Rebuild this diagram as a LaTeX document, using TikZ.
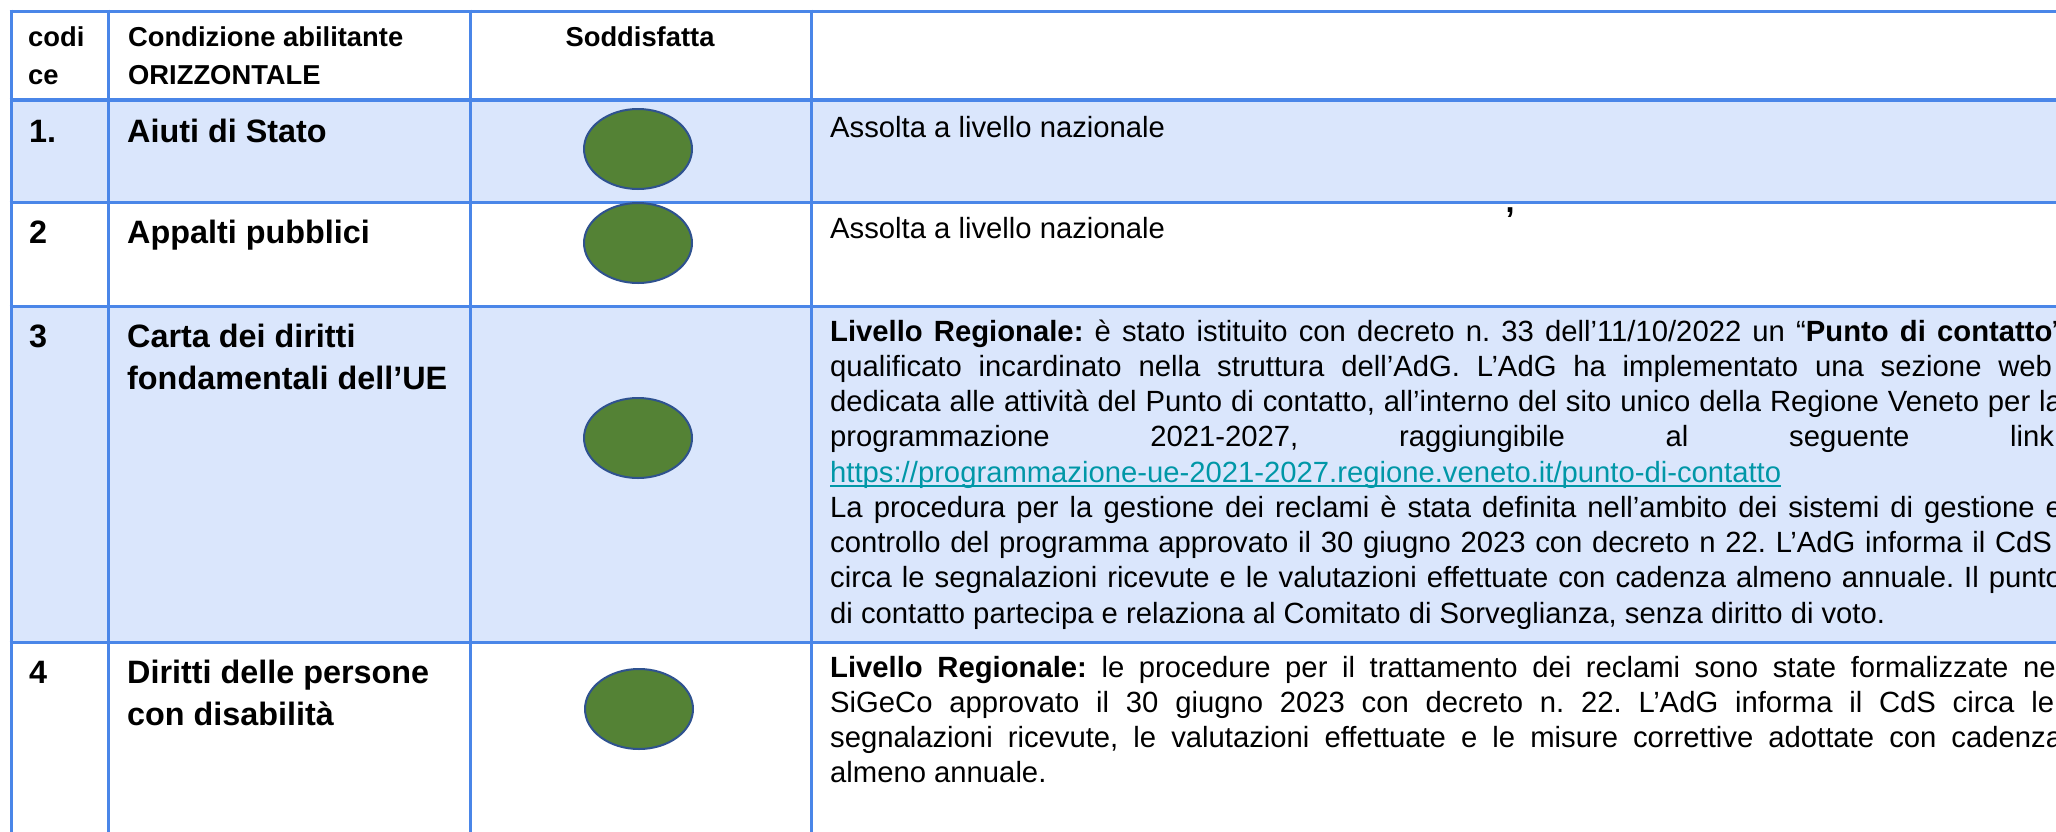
\documentclass[tikz,border=0pt]{standalone}
\usepackage{fontspec}
\setmainfont{Liberation Sans}
\usetikzlibrary{shapes.geometric}
\definecolor{tblline}{RGB}{74,134,232}
\definecolor{rowfill}{RGB}{218,230,252}
\definecolor{okfill}{RGB}{84,130,53}
\definecolor{okdraw}{RGB}{47,82,143}
\definecolor{linkc}{RGB}{0,151,167}
\newlength\mylen
\newcommand\fitfont[4]{\settowidth\mylen{\normalfont#2\fontsize{10pt}{12pt}\selectfont #4}\pgfmathsetmacro#1{10*#3/\mylen}}
\fitfont\bodysz{\mdseries}{1055}{di contatto partecipa e relaziona al Comitato di Sorveglianza, senza diritto di voto.}
\fitfont\titlesz{\bfseries}{320}{fondamentali dell’UE}
\fitfont\headsz{\bfseries}{275}{Condizione abilitante}
\newcommand\bodyf{\normalfont\frenchspacing\fontsize{\bodysz pt}{\bodysz pt}\selectfont}
\newcommand\titlef{\normalfont\bfseries\fontsize{\titlesz pt}{\titlesz pt}\selectfont}
\newcommand\headf{\normalfont\bfseries\fontsize{\headsz pt}{\headsz pt}\selectfont}
\newcommand\jl[1]{\makebox[1232pt][s]{#1}}
\tikzset{
  tl/.style={draw=tblline, line width=3pt},
  tlthick/.style={draw=tblline, line width=4.5pt},
  head/.style={anchor=base west, inner sep=0pt, font=\headf},
  ttl/.style={anchor=base west, inner sep=0pt, font=\titlef},
  body/.style={anchor=base west, inner sep=0pt, font=\bodyf},
  okmark/.style={ellipse, draw=okdraw, line width=2pt, fill=okfill, minimum width=108pt, minimum height=80pt, inner sep=0pt}
}
\begin{document}
\frenchspacing
\begin{tikzpicture}[x=1pt,y=-1pt]
\useasboundingbox (0,0) rectangle (2056,831);
\clip (0,0) rectangle (2056,831);
\fill[white] (0,0) rectangle (2056,831);
% row shading
\fill[rowfill] (11,100) rectangle (2070,202);
\fill[rowfill] (11,306) rectangle (2070,642);
% grid
\draw[tl] (9.5,11) -- (2070,11);
\draw[tlthick] (9.5,100) -- (2070,100);
\draw[tl] (9.5,202) -- (2070,202);
\draw[tl] (9.5,306) -- (2070,306);
\draw[tl] (9.5,642) -- (2070,642);
\draw[tl] (11,9.5) -- (11,840);
\draw[tl] (108,9.5) -- (108,840);
\draw[tl] (470,9.5) -- (470,840);
\draw[tl] (811,9.5) -- (811,840);
% header
\node[head] (hcod1) at (28,46) {codi};
\node[head] (hcod2) at (28,84) {ce};
\node[head] (hcon1) at (128,46) {Condizione abilitante};
\node[head] (hcon2) at (128,84) {ORIZZONTALE};
\node[head, anchor=base] (hsod) at (640,46) {Soddisfatta};
% row numbers and titles
\node[ttl] (n1) at (29,142) {1.};
\node[ttl] (t1) at (127,142) {Aiuti di Stato};
\node[ttl] (n2) at (29,243) {2};
\node[ttl] (t2) at (127,243) {Appalti pubblici};
\node[ttl] (n3) at (29,347) {3};
\node[ttl] (t3a) at (127,347) {Carta dei diritti};
\node[ttl] (t3b) at (127,389) {fondamentali dell’UE};
\node[ttl] (n4) at (29,683) {4};
\node[ttl] (t4a) at (127,683) {Diritti delle persone};
\node[ttl] (t4b) at (127,725) {con disabilità};
% satisfied marks
\node[okmark] (c1) at (638,149) {};
\node[okmark] (c2) at (638,243) {};
\node[okmark] (c3) at (638,438) {};
\node[okmark] (c4) at (639,709) {};
% body texts
\node[body] (b1) at (830,137) {Assolta a livello nazionale};
\node[body] (b2) at (830,238) {Assolta a livello nazionale};
\node[font=\titlef, inner sep=0pt] (comma) at (1510,213) {,};
\node[body] (b3l1) at (830,341) {\jl{\textbf{Livello Regionale:} è stato istituito con decreto n. 33 dell’11/10/2022 un “\textbf{Punto di contatto}”}};
\node[body] (b3l2) at (830,376.25) {\jl{qualificato incardinato nella struttura dell’AdG. L’AdG ha implementato una sezione web\kern10pt}};
\node[body] (b3l3) at (830,411.5) {\jl{dedicata alle attività del Punto di contatto, all’interno del sito unico della Regione Veneto per la}};
\node[body] (b3l4) at (830,446.75) {\jl{programmazione 2021-2027, raggiungibile al seguente link:}};
\node[body, text=linkc] (b3l5) at (830,482) {https://programmazione-ue-2021-2027.regione.veneto.it/punto-di-contatto};
\draw[linkc, line width=1.8pt] ([yshift=-4pt]b3l5.base west) -- ([yshift=-4pt]b3l5.base east);
\node[body] (b3l6) at (830,517.25) {\jl{La procedura per la gestione dei reclami è stata definita nell’ambito dei sistemi di gestione e}};
\node[body] (b3l7) at (830,552.5) {\jl{controllo del programma approvato il 30 giugno 2023 con decreto n 22. L’AdG informa il CdS\kern10pt}};
\node[body] (b3l8) at (830,587.75) {\jl{circa le segnalazioni ricevute e le valutazioni effettuate con cadenza almeno annuale. Il punto}};
\node[body] (b3l9) at (830,623) {di contatto partecipa e relaziona al Comitato di Sorveglianza, senza diritto di voto.};
\node[body] (b4l1) at (830,677) {\jl{\textbf{Livello Regionale:} le procedure per il trattamento dei reclami sono state formalizzate nel}};
\node[body] (b4l2) at (830,712.25) {\jl{SiGeCo approvato il 30 giugno 2023 con decreto n. 22. L’AdG informa il CdS circa le\kern8pt}};
\node[body] (b4l3) at (830,747.5) {\jl{segnalazioni ricevute, le valutazioni effettuate e le misure correttive adottate con cadenza}};
\node[body] (b4l4) at (830,782.75) {almeno annuale.};
\end{tikzpicture}
\end{document}
